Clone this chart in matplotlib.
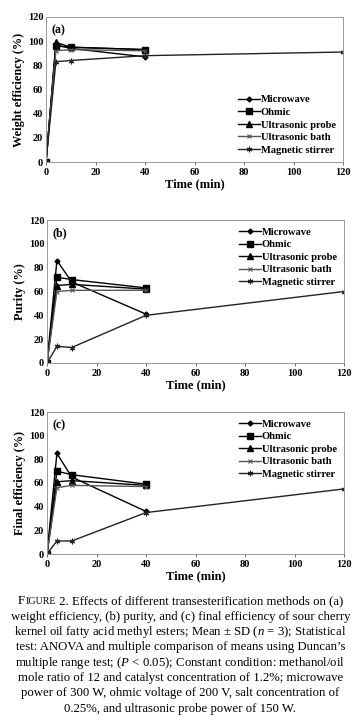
import matplotlib
matplotlib.use("Agg")
import matplotlib.pyplot as plt

plt.rcParams['font.family'] = ['Liberation Serif', 'DejaVu Serif']
plt.rcParams['mathtext.fontset'] = 'custom'
plt.rcParams['mathtext.rm'] = 'Liberation Serif'
plt.rcParams['mathtext.it'] = 'Liberation Serif:italic'

series = ["Microwave", "Ohmic", "Ultrasonic probe", "Ultrasonic bath", "Magnetic stirrer"]
time_short = [0, 4, 10, 40]
time_long = [0, 4, 10, 40, 120]

# (a) weight efficiency
weight_microwave = [0, 97, 94, 87]
weight_ohmic = [0, 96, 95, 93]
weight_probe = [0, 99, 95, 93]
weight_bath = [0, 92, 93, 92]
weight_stirrer = [0, 83, 84, 88, 91]

# (b) purity
purity_microwave = [0, 86, 68, 41]
purity_ohmic = [0, 72, 70, 63]
purity_probe = [0, 65, 66, 62]
purity_bath = [0, 60, 61, 61]
purity_stirrer = [0, 14, 13, 40, 60]

# (c) final efficiency
final_microwave = [0, 85, 65, 36]
final_ohmic = [0, 70, 67, 59]
final_probe = [0, 61, 62, 58]
final_bath = [0, 56, 58, 57]
final_stirrer = [0, 11, 11, 35, 55]

panels = [
    ("(a)", "Weight efficiency (%)",
     [weight_microwave, weight_ohmic, weight_probe, weight_bath, weight_stirrer], "lower right"),
    ("(b)", "Purity (%)",
     [purity_microwave, purity_ohmic, purity_probe, purity_bath, purity_stirrer], "upper right"),
    ("(c)", "Final efficiency (%)",
     [final_microwave, final_ohmic, final_probe, final_bath, final_stirrer], "upper right"),
]

styles = [
    dict(marker='D', markersize=2.5, color='black'),
    dict(marker='s', markersize=4, color='black'),
    dict(marker='^', markersize=4, color='black'),
    dict(marker='x', markersize=3.5, color='#555555', markeredgewidth=0.8),
    dict(marker=(6, 2, 0), markersize=4, color='#222222', markeredgewidth=0.8),
]

W, H = 361, 724
fig = plt.figure(figsize=(W / 100, H / 100), dpi=100)

# axes boxes in pixels: left, top, right, bottom
boxes = [(46, 17, 343, 162), (47, 220, 344, 363), (47, 412, 344, 554)]

for (label, ylabel, data, loc), (l, t, r, b) in zip(panels, boxes):
    ax = fig.add_axes([l / W, 1 - b / H, (r - l) / W, (b - t) / H])
    for name, vals, st in zip(series, data, styles):
        xs = time_long if len(vals) == 5 else time_short
        ax.plot(xs, vals, linewidth=1.0, label=name, **st)
    ax.set_xlim(0, 120)
    ax.set_ylim(0, 120)
    ax.set_xticks(range(0, 121, 20))
    ax.set_yticks(range(0, 121, 20))
    for sp in ax.spines.values():
        sp.set_color('#999999')
        sp.set_linewidth(0.7)
    ax.tick_params(axis='both', labelsize=7.5, length=2.5, width=0.6, color='#555555', pad=2)
    ax.tick_params(axis='y', length=0)
    for lab in ax.get_xticklabels() + ax.get_yticklabels():
        lab.set_fontweight('bold')
    ax.set_xlabel("Time (min)", fontsize=9, fontweight='bold', labelpad=1)
    ax.set_ylabel(ylabel, fontsize=8.8, fontweight='bold', labelpad=2)
    ax.text(0.02, 0.95, label, transform=ax.transAxes, fontsize=8.5, fontweight='bold',
            va='top', ha='left')
    ax.legend(loc=loc, frameon=False, handlelength=2.0,
              handletextpad=0.1, labelspacing=0.3, borderaxespad=0.3,
              prop={'weight': 'bold', 'size': 7.6})

caption = [
    "weight efficiency, (b) purity, and (c) final efficiency of sour cherry",
    r"kernel oil fatty acid methyl esters; Mean ± SD ($\it{n}$ = 3); Statistical",
    "test: ANOVA and multiple comparison of means using Duncan’s",
    r"multiple range test; ($\it{P}$ < 0.05); Constant condition: methanol/oil",
    "mole ratio of 12 and catalyst concentration of 1.2%; microwave",
    "power of 300 W, ohmic voltage of 200 V, salt concentration of",
    "0.25%, and ultrasonic probe power of 150 W.",
]
cap_fs = 9.2
y0 = 601
dy = 15.3

# first line with small caps "FIGURE"
first_parts = [("F", cap_fs), ("IGURE", cap_fs * 0.78),
               (" 2. Effects of different transesterification methods on (a)", cap_fs)]
renderer = fig.canvas.get_renderer()
widths = []
tmp = []
for s, fs in first_parts:
    t = fig.text(0, 0, s, fontsize=fs)
    widths.append(t.get_window_extent(renderer).width)
    tmp.append(t)
for t in tmp:
    t.remove()
total = sum(widths)
x = (W - total) / 2
ybase = 1 - (y0 + 3.5) / H
for (s, fs), w in zip(first_parts, widths):
    fig.text(x / W, ybase, s, fontsize=fs, ha='left', va='baseline')
    x += w

for i, line in enumerate(caption):
    fig.text(0.5, 1 - (y0 + (i + 1) * dy + 3.5) / H, line, ha='center', va='baseline',
             fontsize=cap_fs)

fig.savefig("out.png", dpi=100)
